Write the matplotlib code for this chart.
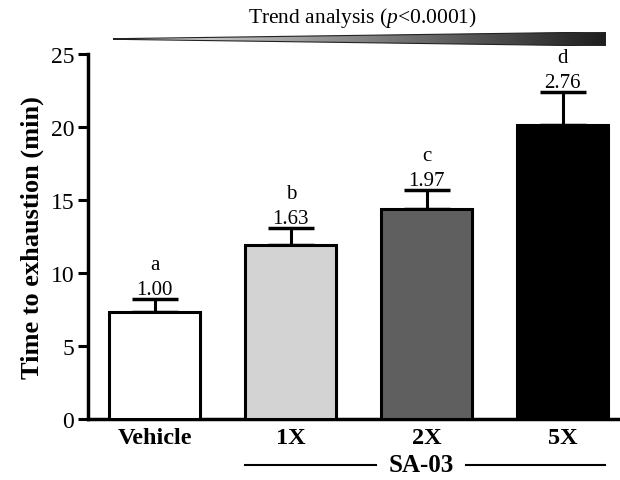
import matplotlib.pyplot as plt
import numpy as np
from matplotlib.patches import Polygon

plt.rcParams['font.family'] = ['Liberation Serif', 'DejaVu Serif']
plt.rcParams['mathtext.fontset'] = 'custom'
plt.rcParams['mathtext.rm'] = 'Liberation Serif'
plt.rcParams['mathtext.it'] = 'Liberation Serif:italic'

groups = ['Vehicle', '1X', '2X', '5X']
means = [7.3, 11.9, 14.4, 20.1]
sems = [0.9, 1.2, 1.3, 2.3]
fold = ['1.00', '1.63', '1.97', '2.76']
letters = ['a', 'b', 'c', 'd']
colors = ['white', '#d3d3d3', '#5f5f5f', 'black']

fig = plt.figure(figsize=(6.2, 4.81), dpi=100)
ax = fig.add_axes([0.142, 0.127, 0.858, 0.759])

x = np.arange(len(groups))
ax.bar(x, means, width=0.67, color=colors, edgecolor='black', linewidth=2.2, zorder=3)
ax.errorbar(x, means, yerr=[np.zeros(len(sems)), sems], fmt='none', ecolor='black',
            elinewidth=2.2, capsize=16.5, capthick=2.5, zorder=2)

for xi, m, s, f, l in zip(x, means, sems, fold, letters):
    ax.text(xi, m + s + 0.35, f, ha='center', va='baseline', fontsize=15)
    ax.text(xi, m + s + 2.05, l, ha='center', va='baseline', fontsize=15)

ax.set_xlim(-0.49, 3.42)
ax.set_ylim(0, 25)
ax.set_yticks([0, 5, 10, 15, 20, 25])
ax.set_xticks(x)
ax.set_xticklabels(groups, fontsize=17.5, fontweight='bold')
ax.tick_params(axis='y', labelsize=17, width=2.2, length=7, direction='out', pad=3)
ax.tick_params(axis='x', length=0, pad=6)
ax.set_ylabel('Time to exhaustion (min)', fontsize=19, fontweight='bold', labelpad=5)
for sp in ['top', 'right']:
    ax.spines[sp].set_visible(False)
for sp in ['left', 'bottom']:
    ax.spines[sp].set_linewidth(2.5)

# trend wedge with gradient
x0, x1 = 113 / 620, 606 / 620
ytop, ybot = 1 - 33 / 481, 1 - 47 / 481
grad = np.linspace(0.92, 0.12, 256).reshape(1, -1)
gax = fig.add_axes([x0, ybot, x1 - x0, ytop - ybot])
gax.set_axis_off()
gax.set_xlim(0, 1)
gax.set_ylim(0, 1)
img = gax.imshow(grad, cmap='gray', vmin=0, vmax=1, aspect='auto', extent=[0, 1, 0, 1])
tri = Polygon([[0, 0.5 - 0.02], [1, 0], [1, 1], [0, 0.5 + 0.02]], closed=True,
              facecolor='none', edgecolor='#222222', linewidth=0.8)
gax.add_patch(tri)
img.set_clip_path(tri)

fig.text(362 / 620, 1 - 18 / 481, 'Trend analysis ($\\mathit{p}$<0.0001)', ha='center', va='center',
         fontsize=15.5)

# SA-03 bracket
ly = 1 - 466 / 481
fig.add_artist(plt.Line2D([245 / 620, 376 / 620], [ly, ly], color='black', linewidth=1.5))
fig.add_artist(plt.Line2D([466 / 620, 605 / 620], [ly, ly], color='black', linewidth=1.5))
fig.text(421 / 620, ly, 'SA-03', ha='center', va='center', fontsize=18, fontweight='bold')

fig.savefig('out.png', dpi=100)
